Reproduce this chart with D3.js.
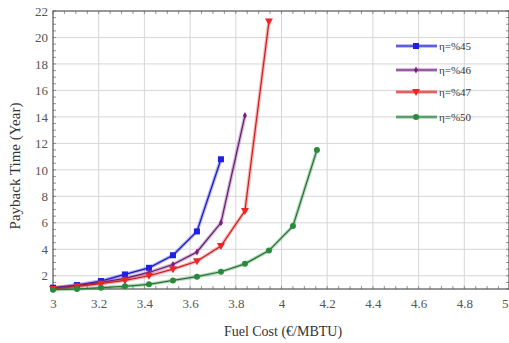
<!DOCTYPE html>
<html>
<head>
<meta charset="utf-8">
<script src="https://cdn.jsdelivr.net/npm/d3@7"></script>
<style>
  body { margin: 0; background: #fff; }
  text { font-family: "Liberation Serif", "DejaVu Serif", serif; }
</style>
</head>
<body>
<div id="chart"></div>
<script>
// fuel cost steps (€/MBTU)
const fuelCost = [3, 3.105, 3.21, 3.315, 3.42, 3.525, 3.63, 3.735, 3.84, 3.945, 4.05, 4.155];

const eta45 = [1.1, 1.3, 1.6, 2.1, 2.6, 3.55, 5.35, 10.8];
const eta46 = [1.05, 1.25, 1.5, 1.8, 2.25, 2.85, 3.8, 6.0, 14.1];
const eta47 = [1.0, 1.2, 1.4, 1.65, 2.0, 2.5, 3.1, 4.25, 6.9, 21.2];
const eta50 = [0.95, 1.0, 1.1, 1.2, 1.35, 1.65, 1.93, 2.3, 2.9, 3.9, 5.75, 11.5];

const seriesNames = ["η=%45", "η=%46", "η=%47", "η=%50"];
const seriesColors = ["#1f1fe6", "#7a1f86", "#f02424", "#2a8a3c"];
const seriesMarkers = ["square", "diamond", "triangleDown", "circle"];

const xTicks = [3, 3.2, 3.4, 3.6, 3.8, 4, 4.2, 4.4, 4.6, 4.8, 5];
const yTicks = [2, 4, 6, 8, 10, 12, 14, 16, 18, 20, 22];

const W = 509, H = 343;
const pLeft = 53, pRight = 510, pTop = 11, pBottom = 289;

const svg = d3.select("#chart").append("svg")
    .attr("width", W).attr("height", H);

const x = d3.scaleLinear().domain([3, 5]).range([pLeft, pRight]);
const y = d3.scaleLinear().domain([1, 22]).range([pBottom, pTop]);

// grid
svg.append("g").selectAll("line").data(xTicks.slice(1, -1)).enter().append("line")
    .attr("x1", d => x(d)).attr("x2", d => x(d))
    .attr("y1", pTop).attr("y2", pBottom)
    .attr("stroke", "#d6d6d6").attr("stroke-width", 1);
svg.append("g").selectAll("line").data(yTicks.slice(0, -1)).enter().append("line")
    .attr("x1", pLeft).attr("x2", pRight)
    .attr("y1", d => y(d)).attr("y2", d => y(d))
    .attr("stroke", "#d6d6d6").attr("stroke-width", 1);

// minor ticks inside frame
const xMinor = d3.range(3, 5.001, 0.05);
const yMinor = d3.range(1, 22.001, 0.5);
const ticksG = svg.append("g").attr("stroke", "#777").attr("stroke-width", 0.8);
xMinor.forEach(v => {
    ticksG.append("line").attr("x1", x(v)).attr("x2", x(v)).attr("y1", pBottom).attr("y2", pBottom - 3);
    ticksG.append("line").attr("x1", x(v)).attr("x2", x(v)).attr("y1", pTop).attr("y2", pTop + 3);
});
yMinor.forEach(v => {
    ticksG.append("line").attr("x1", pLeft).attr("x2", pLeft + 3).attr("y1", y(v)).attr("y2", y(v));
    ticksG.append("line").attr("x1", pRight - 1).attr("x2", pRight - 4).attr("y1", y(v)).attr("y2", y(v));
});

// axes labels
svg.append("g")
    .attr("transform", `translate(0,${pBottom})`)
    .call(d3.axisBottom(x).tickValues(xTicks).tickSize(0).tickPadding(10).tickFormat(d3.format("")))
    .call(g => g.select(".domain").remove())
    .call(g => g.selectAll("text").attr("font-size", 13).attr("fill", "#555")
        .style("font-family", "Liberation Serif"))
    .call(g => g.selectAll("text").filter(d => d === 5).attr("text-anchor", "end").attr("dx", -2));

svg.append("g")
    .attr("transform", `translate(${pLeft},0)`)
    .call(d3.axisLeft(y).tickValues(yTicks).tickSize(0).tickPadding(5))
    .call(g => g.select(".domain").remove())
    .call(g => g.selectAll("text").attr("font-size", 13).attr("fill", "#555")
        .style("font-family", "Liberation Serif"));

// frame
svg.append("rect")
    .attr("x", pLeft).attr("y", pTop)
    .attr("width", pRight - pLeft - 1).attr("height", pBottom - pTop)
    .attr("fill", "none").attr("stroke", "#555").attr("stroke-width", 1.2);

// titles
svg.append("text")
    .attr("x", 283).attr("y", 336)
    .attr("text-anchor", "middle")
    .attr("font-size", 14).attr("fill", "#333")
    .text("Fuel Cost (€/MBTU)");

svg.append("text")
    .attr("transform", "translate(20,166) rotate(-90)")
    .attr("text-anchor", "middle")
    .attr("font-size", 15).attr("fill", "#333")
    .text("Payback Time (Year)");

function drawMarker(g, type, cx, cy, color) {
    if (type === "square") {
        g.append("rect").attr("x", cx - 3).attr("y", cy - 3).attr("width", 6).attr("height", 6)
            .attr("fill", color);
    } else if (type === "diamond") {
        g.append("path").attr("d", d3.symbol(d3.symbolDiamond, 14)())
            .attr("transform", `translate(${cx},${cy})`).attr("fill", color);
    } else if (type === "triangleDown") {
        g.append("path").attr("d", `M${cx - 4},${cy - 3}L${cx + 4},${cy - 3}L${cx},${cy + 4}Z`)
            .attr("fill", color);
    } else {
        g.append("circle").attr("cx", cx).attr("cy", cy).attr("r", 3).attr("fill", color);
    }
}

const allSeries = [eta45, eta46, eta47, eta50];
const line = d3.line().x(d => x(d[0])).y(d => y(d[1]));

allSeries.forEach((vals, i) => {
    const pts = vals.map((v, j) => [fuelCost[j], v]);
    const g = svg.append("g");
    g.append("path").datum(pts).attr("d", line)
        .attr("fill", "none").attr("stroke", seriesColors[i])
        .attr("stroke-opacity", 0.35).attr("stroke-width", 3.5);
    g.append("path").datum(pts).attr("d", line)
        .attr("fill", "none").attr("stroke", d3.color(seriesColors[i]).darker(0.5))
        .attr("stroke-width", 1.2);
    pts.forEach(p => drawMarker(g, seriesMarkers[i], x(p[0]), y(p[1]), seriesColors[i]));
});

// legend
const legendY = [46, 70, 92, 117];
const legend = svg.append("g");
seriesNames.forEach((name, i) => {
    const ly = legendY[i];
    legend.append("line").attr("x1", 396).attr("x2", 437).attr("y1", ly).attr("y2", ly)
        .attr("stroke", seriesColors[i]).attr("stroke-opacity", 0.4).attr("stroke-width", 3.5);
    legend.append("line").attr("x1", 396).attr("x2", 437).attr("y1", ly).attr("y2", ly)
        .attr("stroke", d3.color(seriesColors[i]).darker(0.5)).attr("stroke-width", 1.2);
    drawMarker(legend, seriesMarkers[i], 416, ly, seriesColors[i]);
    legend.append("text").attr("x", 439).attr("y", ly + 4)
        .attr("font-size", 11).attr("fill", "#333").text(name);
});
</script>
</body>
</html>
